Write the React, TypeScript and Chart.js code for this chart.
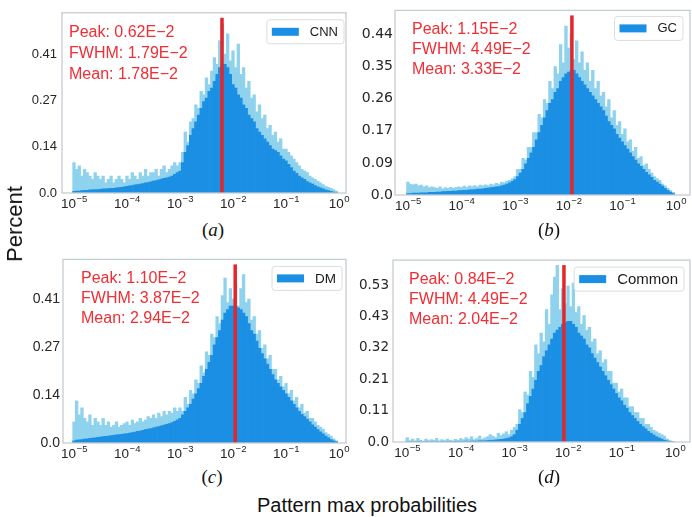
import React, { useEffect, useRef } from 'react';
import { Chart, registerables } from 'chart.js';
Chart.register(...registerables);

// ---- data ----
const binExp = [
  -5.00, -4.95, -4.90, -4.85, -4.80, -4.75, -4.70, -4.65, -4.60, -4.55,
  -4.50, -4.45, -4.40, -4.35, -4.30, -4.25, -4.20, -4.15, -4.10, -4.05,
  -4.00, -3.95, -3.90, -3.85, -3.80, -3.75, -3.70, -3.65, -3.60, -3.55,
  -3.50, -3.45, -3.40, -3.35, -3.30, -3.25, -3.20, -3.15, -3.10, -3.05,
  -3.00, -2.95, -2.90, -2.85, -2.80, -2.75, -2.70, -2.65, -2.60, -2.55,
  -2.50, -2.45, -2.40, -2.35, -2.30, -2.25, -2.20, -2.15, -2.10, -2.05,
  -2.00, -1.95, -1.90, -1.85, -1.80, -1.75, -1.70, -1.65, -1.60, -1.55,
  -1.50, -1.45, -1.40, -1.35, -1.30, -1.25, -1.20, -1.15, -1.10, -1.05,
  -1.00, -0.95, -0.90, -0.85, -0.80, -0.75, -0.70, -0.65, -0.60, -0.55,
  -0.50, -0.45, -0.40, -0.35, -0.30, -0.25, -0.20, -0.15, -0.10, -0.05,
];

const cnnTips = [
  .09, .07, .08, .05, .07, .06, .05, .04, .06, .05,
  .04, .05, .03, .04, .05, .03, .04, .05, .04, .03,
  .05, .04, .06, .05, .04, .06, .05, .07, .05, .06,
  .06, .07, .05, .07, .08, .06, .07, .08, .09, .08,
  .09, .12, .18, .15, .21, .22, .26, .25, .30, .29,
  .34, .32, .36, .40, .38, .45, .50, .41, .47, .39,
  .42, .37, .44, .35, .37, .31, .33, .28, .29, .24,
  .26, .22, .23, .19, .20, .17, .18, .15, .16, .13,
  .13, .12, .11, .10, .09, .08, .07, .065, .06, .05,
  .045, .04, .035, .03, .025, .02, .017, .014, .01, .006,
];
const cnnCore = [
  .005, .006, .006, .007, .008, .008, .009, .009, .010, .010,
  .011, .012, .012, .013, .014, .014, .015, .016, .017, .018,
  .020, .021, .022, .024, .025, .026, .028, .030, .031, .033,
  .035, .037, .039, .041, .043, .045, .047, .050, .055, .060,
  .065, .09, .12, .14, .17, .19, .21, .23, .25, .27,
  .28, .30, .31, .33, .35, .37, .38, .38, .37, .35,
  .32, .31, .29, .28, .26, .25, .23, .22, .21, .19,
  .18, .17, .16, .15, .14, .13, .125, .12, .11, .10,
  .095, .085, .075, .065, .058, .05, .045, .04, .034, .03,
  .026, .022, .018, .015, .012, .009, .007, .005, .003, .002,
];

const gcTips = [
  .035, .03, .028, .03, .025, .027, .022, .025, .02, .022,
  .02, .018, .022, .017, .02, .018, .021, .019, .02, .022,
  .02, .024, .021, .025, .023, .026, .022, .027, .025, .028,
  .026, .03, .028, .032, .03, .035, .033, .038, .04, .045,
  .05, .07, .07, .10, .095, .13, .13, .17, .17, .22,
  .21, .26, .25, .31, .29, .35, .33, .41, .36, .46,
  .40, .44, .37, .42, .36, .39, .34, .36, .31, .34,
  .29, .31, .27, .28, .24, .26, .21, .23, .19, .20,
  .165, .18, .145, .15, .12, .13, .10, .105, .08, .085,
  .07, .06, .05, .045, .04, .03, .025, .018, .012, .007,
];
const gcCore = [
  .004, .004, .005, .005, .005, .006, .006, .006, .007, .007,
  .007, .008, .008, .009, .009, .010, .010, .011, .011, .012,
  .012, .013, .013, .014, .014, .015, .016, .016, .017, .018,
  .019, .020, .021, .022, .023, .025, .027, .030, .033, .037,
  .042, .05, .06, .07, .085, .10, .115, .13, .15, .17,
  .19, .21, .23, .25, .26, .28, .29, .31, .32, .33,
  .335, .34, .34, .33, .32, .31, .30, .29, .28, .27,
  .26, .25, .24, .23, .215, .20, .19, .18, .165, .155,
  .145, .135, .125, .115, .105, .095, .085, .078, .07, .062,
  .055, .048, .04, .035, .03, .024, .018, .013, .008, .004,
];

const dmTips = [
  .06, .12, .08, .10, .07, .06, .08, .05, .07, .06,
  .05, .07, .05, .06, .045, .05, .06, .045, .05, .055,
  .06, .05, .065, .055, .06, .07, .06, .065, .075, .07,
  .08, .07, .085, .075, .09, .08, .09, .085, .10, .09,
  .10, .09, .13, .11, .15, .14, .18, .17, .22, .20,
  .26, .25, .31, .30, .36, .34, .42, .47, .40, .44,
  .41, .45, .39, .44, .48, .40, .41, .35, .36, .31,
  .32, .27, .28, .24, .25, .21, .21, .18, .19, .16,
  .17, .14, .15, .12, .13, .10, .11, .085, .09, .07,
  .07, .06, .05, .045, .04, .03, .025, .02, .012, .006,
];
const dmCore = [
  .006, .008, .009, .010, .011, .012, .013, .014, .015, .016,
  .017, .018, .019, .020, .021, .022, .023, .024, .025, .026,
  .027, .028, .030, .031, .033, .034, .036, .038, .040, .041,
  .043, .045, .047, .049, .051, .053, .055, .058, .062, .066,
  .07, .08, .09, .10, .11, .125, .14, .155, .17, .19,
  .21, .23, .25, .28, .30, .32, .35, .37, .38, .39,
  .39, .39, .385, .38, .37, .36, .34, .32, .31, .29,
  .27, .255, .24, .225, .21, .195, .18, .17, .16, .15,
  .14, .13, .12, .11, .10, .09, .082, .075, .068, .06,
  .052, .045, .038, .032, .026, .02, .015, .01, .006, .003,
];

const commonTips = [
  .015, .005, .01, .004, .012, .006, .003, .01, .005, .008,
  .006, .012, .004, .008, .005, .01, .006, .004, .009, .006,
  .012, .008, .015, .01, .018, .008, .012, .02, .01, .014,
  .018, .025, .02, .015, .03, .022, .028, .035, .025, .04,
  .05, .06, .11, .10, .17, .16, .24, .22, .33, .30,
  .37, .34, .45, .40, .50, .56, .60, .45, .52, .47,
  .53, .46, .54, .44, .46, .40, .43, .38, .39, .34,
  .35, .30, .31, .27, .28, .24, .24, .20, .20, .17,
  .18, .15, .15, .12, .12, .10, .10, .08, .08, .06,
  .06, .05, .04, .035, .03, .025, .02, .01, .005, .002,
];
const commonCore = [
  .001, .001, .001, .001, .001, .001, .001, .001, .001, .001,
  .001, .001, .001, .002, .001, .002, .001, .002, .002, .002,
  .002, .002, .003, .002, .003, .003, .003, .004, .004, .004,
  .005, .006, .006, .007, .008, .009, .010, .012, .014, .018,
  .025, .04, .06, .08, .10, .13, .155, .18, .21, .24,
  .26, .29, .31, .33, .35, .37, .38, .39, .40, .405,
  .41, .41, .40, .39, .37, .36, .35, .33, .32, .30,
  .285, .27, .255, .24, .225, .21, .195, .18, .165, .15,
  .14, .125, .115, .10, .09, .08, .07, .06, .052, .045,
  .036, .03, .024, .018, .014, .01, .006, .004, .002, .001,
];

const seriesNames = ['CNN', 'GC', 'DM', 'Common'];
const peakValues = [0.0062, 0.0115, 0.0110, 0.0084];
const cnnStats = ['Peak: 0.62E\u22122', 'FWHM: 1.79E\u22122', 'Mean: 1.78E\u22122'];
const gcStats = ['Peak: 1.15E\u22122', 'FWHM: 4.49E\u22122', 'Mean: 3.33E\u22122'];
const dmStats = ['Peak: 1.10E\u22122', 'FWHM: 3.87E\u22122', 'Mean: 2.94E\u22122'];
const commonStats = ['Peak: 0.84E\u22122', 'FWHM: 4.49E\u22122', 'Mean: 2.04E\u22122'];
const xTickExps = [-5, -4, -3, -2, -1, 0];
const cnnYTicks = [0, 0.41 / 3, 0.82 / 3, 0.41];
const gcYTicks = [0, 0.0875, 0.175, 0.2625, 0.35, 0.4375];
const dmYTicks = [0, 0.41 / 3, 0.82 / 3, 0.41];
const commonYTicks = [0, 0.32 / 3, 0.64 / 3, 0.32, 1.28 / 3, 1.6 / 3];
const panelTags = ['a', 'b', 'c', 'd'];

// ---- styles ----
const DARK = '#1b8fe3';
const LIGHT = '#8fd2ee';
const RED_LINE = '#e3262a';
const RED_TEXT = '#f02e34';
const FRAME = '#c4cdd2';
const TICK = '#262626';
const SANS = '"Liberation Sans", Arial, "DejaVu Sans", sans-serif';

const panels = [
  { tips: cnnTips, core: cnnCore, stats: cnnStats, yTicks: cnnYTicks, yMax: 0.532, xMin: -5.226, xMax: 0.132,
    canvas: { left: 0, top: 0, width: 360, height: 216 }, pad: { left: 22, top: 1, right: 14, bottom: 3 },
    yFont: { family: SANS, size: 13 }, yPad: 5, textDx: 7, textBase: [24, 45, 66], legFont: 13, legRight: 2, legTop: 7 },
  { tips: gcTips, core: gcCore, stats: gcStats, yTicks: gcYTicks, yMax: 0.503, xMin: -5.24, xMax: 0.264,
    canvas: { left: 350, top: 0, width: 342, height: 218 }, pad: { left: 5, top: 3, right: 2, bottom: 3 },
    yFont: { family: '"DejaVu Sans", sans-serif', size: 14 }, yPad: 2, textDx: 17, textBase: [24, 44, 63.5], legFont: 13, legRight: 7, legTop: 6 },
  { tips: dmTips, core: dmCore, stats: dmStats, yTicks: dmYTicks, yMax: 0.523, xMin: -5.208, xMax: 0.132,
    canvas: { left: 0, top: 248, width: 360, height: 216 }, pad: { left: 23, top: 5, right: 14, bottom: 1 },
    yFont: { family: SANS, size: 14 }, yPad: 3, textDx: 18, textBase: [24, 44, 63.5], legFont: 13.5, legRight: 4, legTop: 7 },
  { tips: commonTips, core: commonCore, stats: commonStats, yTicks: commonYTicks, yMax: 0.618, xMin: -5.265, xMax: 0.276,
    canvas: { left: 350, top: 248, width: 342, height: 216 }, pad: { left: 3, top: 5, right: 2, bottom: 2 },
    yFont: { family: '"DejaVu Sans", sans-serif', size: 13.5 }, yPad: 4, textDx: 16, textBase: [24, 44, 63.5], legFont: 15, legRight: 6, legTop: 7 },
];

function Panel({ idx }: { idx: number }) {
  const ref = useRef<HTMLCanvasElement>(null);
  const cfg = panels[idx];
  useEffect(() => {
    const name = seriesNames[idx];
    const peak = peakValues[idx];
    const decor = {
      id: 'decor' + idx,
      afterDatasetsDraw(chart: any) {
        const { ctx, chartArea: a, scales } = chart;
        ctx.save();
        // red peak line
        const xp = scales.x.getPixelForValue(Math.log10(peak));
        ctx.strokeStyle = RED_LINE;
        ctx.lineWidth = 3.5;
        ctx.beginPath();
        ctx.moveTo(xp, a.top + 5);
        ctx.lineTo(xp, a.bottom);
        ctx.stroke();
        // frame
        ctx.strokeStyle = FRAME;
        ctx.lineWidth = 1.3;
        ctx.strokeRect(a.left, a.top, a.right - a.left, a.bottom - a.top);
        // x tick labels: 10 with superscript exponent
        ctx.fillStyle = TICK;
        ctx.textBaseline = 'alphabetic';
        ctx.textAlign = 'left';
        xTickExps.forEach((e) => {
          const px = scales.x.getPixelForValue(e);
          const base = '10';
          const sup = e < 0 ? '\u2212' + String(-e) : String(e);
          ctx.font = '13.5px ' + SANS;
          const bw = ctx.measureText(base).width;
          ctx.font = '9.5px ' + SANS;
          const sw = ctx.measureText(sup).width;
          const x0 = px - (bw + sw) / 2;
          ctx.font = '13.5px ' + SANS;
          ctx.fillText(base, x0, a.bottom + 15);
          ctx.font = '9.5px ' + SANS;
          ctx.fillText(sup, x0 + bw + 0.5, a.bottom + 9);
        });
        // stats text
        ctx.fillStyle = RED_TEXT;
        ctx.font = '16px ' + SANS;
        cfg.stats.forEach((s: string, i: number) => ctx.fillText(s, a.left + cfg.textDx, a.top + cfg.textBase[i]));
        // legend
        ctx.font = cfg.legFont + 'px ' + SANS;
        const tw = ctx.measureText(name).width;
        const bw = 43 + tw + 6;
        const bh = 24;
        const bx = a.right - cfg.legRight - bw;
        const by = a.top + cfg.legTop;
        ctx.beginPath();
        if ((ctx as any).roundRect) (ctx as any).roundRect(bx, by, bw, bh, 3);
        else ctx.rect(bx, by, bw, bh);
        ctx.fillStyle = 'rgba(255,255,255,0.85)';
        ctx.fill();
        ctx.strokeStyle = '#dcdcdc';
        ctx.lineWidth = 1;
        ctx.stroke();
        ctx.fillStyle = DARK;
        ctx.fillRect(bx + 5, by + bh / 2 - 4, 27, 8);
        ctx.fillStyle = '#1a1a1a';
        ctx.textBaseline = 'middle';
        ctx.fillText(name, bx + 43, by + bh / 2 + 0.5);
        ctx.restore();
      },
    };
    const coreData = binExp.map((x, i) => ({ x, y: cfg.core[i] }));
    const tipData = binExp.map((x, i) => ({ x, y: cfg.tips[i] }));
    const chart = new Chart(ref.current as HTMLCanvasElement, {
      type: 'bar',
      data: {
        datasets: [
          { label: name, data: coreData as any, backgroundColor: DARK, borderWidth: 0, grouped: false, barPercentage: 1, categoryPercentage: 1 } as any,
          { label: name + ' spikes', data: tipData as any, backgroundColor: LIGHT, borderWidth: 0, grouped: false, barPercentage: 1, categoryPercentage: 1 } as any,
        ],
      },
      options: {
        animation: false,
        responsive: false,
        devicePixelRatio: 1,
        layout: { padding: cfg.pad },
        plugins: { legend: { display: false }, tooltip: { enabled: false }, title: { display: false } },
        scales: {
          x: {
            type: 'linear',
            min: cfg.xMin,
            max: cfg.xMax,
            offset: false,
            grid: { display: false, drawTicks: false, offset: false },
            border: { display: false },
            afterBuildTicks: (s: any) => { s.ticks = xTickExps.map((v) => ({ value: v })); },
            afterFit: (s: any) => { s.height = 20; },
            ticks: { display: false },
          },
          y: {
            type: 'linear',
            min: 0,
            max: cfg.yMax,
            grid: { display: false, drawTicks: false },
            border: { display: false },
            afterBuildTicks: (s: any) => { s.ticks = cfg.yTicks.map((v: number) => ({ value: v })); },
            afterFit: (s: any) => { s.width = 40; },
            ticks: {
              padding: cfg.yPad,
              color: TICK,
              font: cfg.yFont,
              callback: (v: any) => (Number(v) === 0 ? '0.0' : Number(v).toFixed(2)),
            },
          },
        },
      },
      plugins: [decor],
    } as any);
    return () => chart.destroy();
  }, []);
  return (
    <canvas
      ref={ref}
      width={cfg.canvas.width}
      height={cfg.canvas.height}
      style={{ position: 'absolute', left: cfg.canvas.left, top: cfg.canvas.top, width: cfg.canvas.width, height: cfg.canvas.height }}
    />
  );
}

const tagPos = [
  { x: 213, y: 229 },
  { x: 549, y: 229 },
  { x: 212, y: 476 },
  { x: 549, y: 476 },
];

export default function App() {
  return (
    <div style={{ position: 'absolute', left: 0, top: 0, width: 692, height: 517, background: '#fff', overflow: 'hidden' }}>
      {panels.map((_, i) => <Panel key={i} idx={i} />)}
      {panelTags.map((t, i) => (
        <div key={t} style={{ position: 'absolute', left: tagPos[i].x, top: tagPos[i].y, transform: 'translate(-50%, -50%)', fontFamily: '"Liberation Serif", "Times New Roman", serif', fontSize: 19, color: '#111', whiteSpace: 'nowrap', lineHeight: 1 }}>
          (<i>{t}</i>)
        </div>
      ))}
      <div style={{ position: 'absolute', left: 15, top: 224, transform: 'translate(-50%, -50%) rotate(-90deg)', fontFamily: SANS, fontSize: 22, color: '#111', whiteSpace: 'nowrap', lineHeight: 1 }}>
        Percent
      </div>
      <div style={{ position: 'absolute', left: 367, top: 505, transform: 'translate(-50%, -50%)', fontFamily: SANS, fontSize: 20, color: '#111', whiteSpace: 'nowrap', lineHeight: 1 }}>
        Pattern max probabilities
      </div>
    </div>
  );
}
